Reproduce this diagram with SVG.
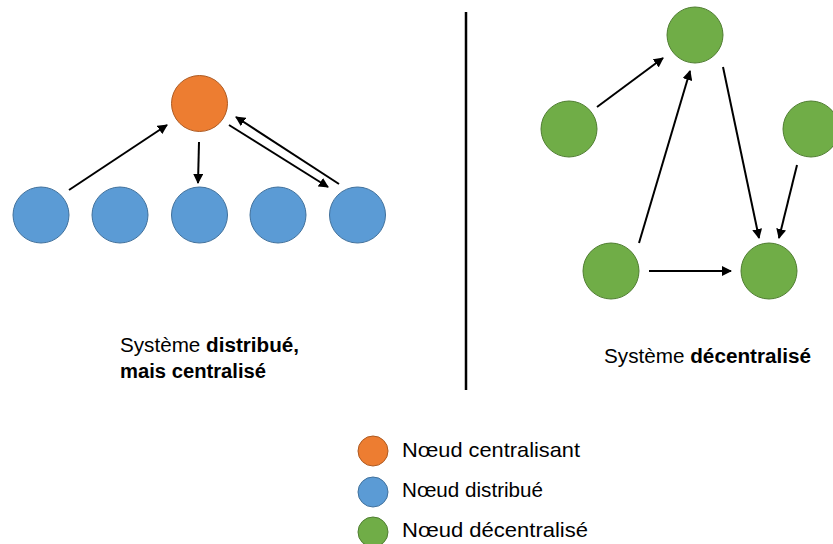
<svg xmlns="http://www.w3.org/2000/svg" width="833" height="544" viewBox="0 0 833 544">
<defs>
<marker id="ah" viewBox="0 0 10 10" refX="9" refY="5" markerWidth="5" markerHeight="5" markerUnits="strokeWidth" orient="auto">
<path d="M0,0 L10,5 L0,10 z" fill="#000"/>
</marker>
<style>
.o{fill:#ED7D31;stroke:#AE5A21;stroke-width:1}
.b{fill:#5B9BD5;stroke:#41719C;stroke-width:1}
.g{fill:#70AD47;stroke:#507E32;stroke-width:1}
.e{stroke:#000;stroke-width:2;fill:none;marker-end:url(#ah)}
text{font-family:"Liberation Sans",Arial,sans-serif;font-size:20px;fill:#000}
.bd{font-weight:bold}
.lg{font-size:21px}
</style>
</defs>
<rect width="833" height="544" fill="#fff"/>
<g id="left-nodes">
<g id="central"><circle class="o" cx="199.5" cy="103.5" r="28"/></g>
<g id="b1"><circle class="b" cx="41" cy="215" r="28"/></g>
<g id="b2"><circle class="b" cx="120" cy="215" r="28"/></g>
<g id="b3"><circle class="b" cx="199.5" cy="215" r="28"/></g>
<g id="b4"><circle class="b" cx="278" cy="215" r="28"/></g>
<g id="b5"><circle class="b" cx="357.5" cy="215" r="28"/></g>
</g>
<g id="right-nodes">
<g id="g-top"><circle class="g" cx="695" cy="35" r="28"/></g>
<g id="g-left"><circle class="g" cx="569" cy="129" r="28"/></g>
<g id="g-right"><circle class="g" cx="811" cy="129" r="28"/></g>
<g id="g-bl"><circle class="g" cx="611" cy="271" r="28"/></g>
<g id="g-br"><circle class="g" cx="769" cy="271" r="28"/></g>
</g>
<g id="connectors">
<line class="e" x1="69" y1="190" x2="167" y2="125"/>
<line class="e" x1="199" y1="142" x2="198" y2="183"/>
<line class="e" x1="229" y1="125" x2="328" y2="187"/>
<line class="e" x1="339" y1="184" x2="236" y2="117"/>
<line class="e" x1="597" y1="107" x2="663" y2="58"/>
<line class="e" x1="639" y1="243" x2="690" y2="71"/>
<line class="e" x1="723" y1="67" x2="759" y2="238"/>
<line class="e" x1="797" y1="165" x2="779" y2="238"/>
<line class="e" x1="649" y1="271" x2="731" y2="271"/>
</g>
<g id="divider"><line x1="466" y1="12" x2="466" y2="390" stroke="#000" stroke-width="2.5"/></g>
<g id="labels">
<text x="120" y="352" textLength="179" lengthAdjust="spacingAndGlyphs">Système <tspan class="bd">distribué,</tspan></text>
<text x="120" y="378" class="bd" textLength="146" lengthAdjust="spacingAndGlyphs">mais centralisé</text>
<text x="604" y="363" textLength="207" lengthAdjust="spacingAndGlyphs">Système <tspan class="bd">décentralisé</tspan></text>
</g>
<g id="legend">
<circle class="o" cx="373" cy="451" r="15"/>
<circle class="b" cx="373" cy="492" r="15"/>
<circle class="g" cx="373" cy="532" r="15"/>
<text class="lg" x="402" y="457" textLength="178" lengthAdjust="spacingAndGlyphs">Nœud centralisant</text>
<text class="lg" x="402" y="497" textLength="141" lengthAdjust="spacingAndGlyphs">Nœud distribué</text>
<text class="lg" x="402" y="537" textLength="186" lengthAdjust="spacingAndGlyphs">Nœud décentralisé</text>
</g>
</svg>
